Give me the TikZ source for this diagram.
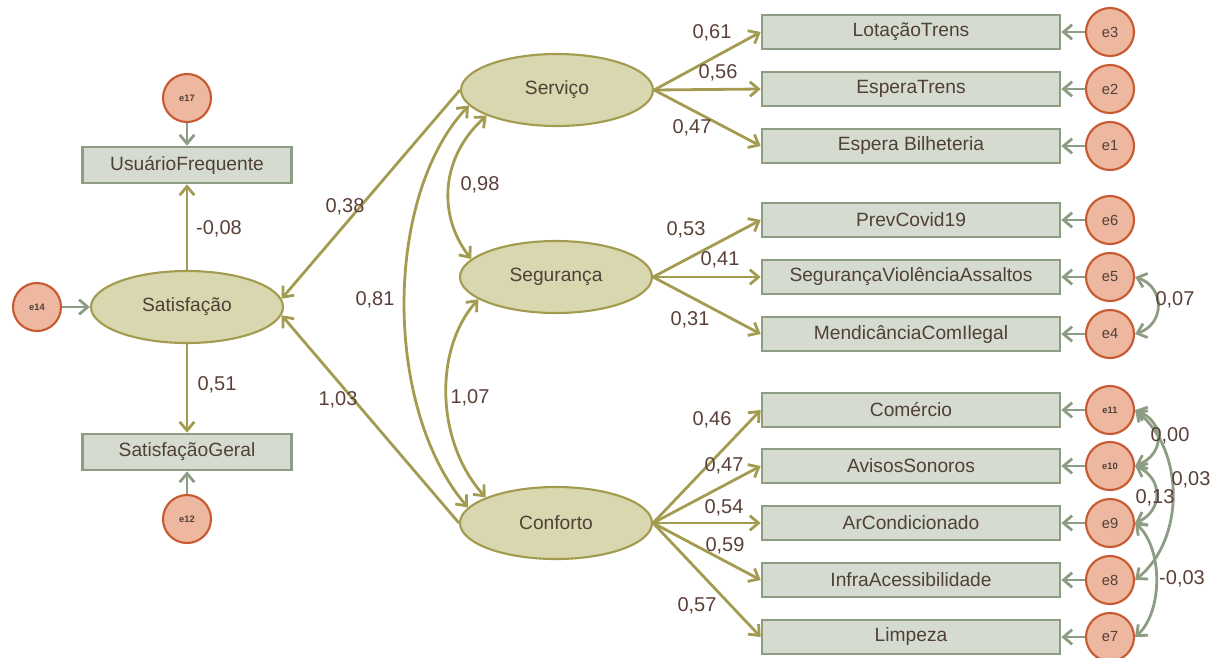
\documentclass[tikz,border=0pt]{standalone}
\usepackage{fontspec}
\setmainfont{Liberation Sans}
\usetikzlibrary{shapes.geometric,arrows.meta}

\definecolor{latfill}{HTML}{D9D7AF}
\definecolor{latline}{HTML}{A39C50}
\definecolor{obsfill}{HTML}{D5DBCF}
\definecolor{obsline}{HTML}{8D9D83}
\definecolor{errfill}{HTML}{EDB7A0}
\definecolor{errline}{HTML}{C85A32}
\definecolor{txtbrown}{HTML}{4F4038}
\definecolor{numbrown}{HTML}{5A4038}

\tikzset{every picture/.style={line width=0.75pt}}
\tikzset{
  latent/.style={ellipse, draw=latline, fill=latfill, line width=1.6pt, minimum width=144pt, minimum height=54pt, inner sep=0pt, text=txtbrown, font=\fontsize{14.4}{16}\selectfont},
  obsbox/.style={rectangle, draw=obsline, fill=obsfill, line width=2pt, minimum width=223.5pt, minimum height=25.5pt, inner sep=0pt, text=txtbrown, font=\fontsize{14.4}{16}\selectfont},
  obsleft/.style={obsbox, minimum width=156.75pt, minimum height=27pt},
  errc/.style={circle, draw=errline, fill=errfill, line width=1.6pt, minimum size=36pt, inner sep=0pt, text=txtbrown, font=\fontsize{11}{12}\selectfont},
  errsmall/.style={errc, font=\fontsize{7}{8}\selectfont\bfseries},
  loadpath/.style={draw=latline, line width=2.1pt, -{Straight Barb[length=6.5pt,width=11pt]}},
  covpath/.style={draw=latline, line width=2.1pt, {Straight Barb[length=6.5pt,width=11pt]}-{Straight Barb[length=6.5pt,width=11pt]}},
  errarrow/.style={draw=obsline, line width=2.1pt, -{Straight Barb[length=6.5pt,width=11pt]}},
  errcov/.style={draw=obsline, line width=2.1pt, {Straight Barb[length=6.5pt,width=11pt]}-{Straight Barb[length=6.5pt,width=11pt]}},
  coef/.style={text=numbrown, font=\fontsize{15}{17}\selectfont, inner sep=0pt},
}

\begin{document}
\begin{tikzpicture}[x=0.75pt,y=0.75pt,yscale=-1,xscale=1]
\path[use as bounding box] (0,0) rectangle (1219,657);

%Shape: Ellipse (latentes)
\node[latent] (sat) at (187,307) {Satisfação};
\node[latent] (serv) at (557,90) {Serviço};
\node[latent] (seg) at (556,277) {Segurança};
\node[latent] (conf) at (556,523) {Conforto};

%Shape: Rectangle (esquerda)
\node[obsleft] (usu) at (187,165) {UsuárioFrequente};
\node[obsleft] (sgeral) at (187,452) {SatisfaçãoGeral};

%Shape: Rectangle (direita)
\node[obsbox] (lot) at (911,32) {LotaçãoTrens};
\node[obsbox] (espt) at (911,89) {EsperaTrens};
\node[obsbox] (espb) at (911,146) {Espera Bilheteria};
\node[obsbox] (prev) at (911,220) {PrevCovid19};
\node[obsbox] (segv) at (911,277) {SegurançaViolênciaAssaltos};
\node[obsbox] (mend) at (911,334) {MendicânciaComIlegal};
\node[obsbox] (com) at (911,410) {Comércio};
\node[obsbox] (avis) at (911,466) {AvisosSonoros};
\node[obsbox] (arc) at (911,523) {ArCondicionado};
\node[obsbox] (infra) at (911,580) {InfraAcessibilidade};
\node[obsbox] (limp) at (911,637) {Limpeza};

%Shape: Circle (erros)
\node[errsmall] (e17) at (187,98) {e17};
\node[errsmall] (e14) at (37,307) {e14};
\node[errsmall] (e12) at (187,519) {e12};
\node[errc] (e3) at (1110,32) {e3};
\node[errc] (e2) at (1110,89) {e2};
\node[errc] (e1) at (1110,146) {e1};
\node[errc] (e6) at (1110,220) {e6};
\node[errc] (e5) at (1110,277) {e5};
\node[errc] (e4) at (1110,334) {e4};
\node[errsmall] (e11) at (1110,410) {e11};
\node[errsmall] (e10) at (1110,466) {e10};
\node[errc] (e9) at (1110,523) {e9};
\node[errc] (e8) at (1110,580) {e8};
\node[errc] (e7) at (1110,637) {e7};

%Straight Lines (erros)
\draw[errarrow] (e17) -- (usu);
\draw[errarrow] (e14) -- (sat);
\draw[errarrow] (e12) -- (sgeral);
\foreach \e/\b in {e3/lot,e2/espt,e1/espb,e6/prev,e5/segv,e4/mend,e11/com,e10/avis,e9/arc,e8/infra,e7/limp}
  \draw[errarrow] (\e) -- (\b);

%Straight Lines (cargas)
\draw[loadpath] (sat) -- (usu);
\draw[loadpath] (sat) -- (sgeral);
\draw[loadpath] (serv.west) -- (sat.5);
\draw[loadpath] (conf.west) -- (sat.-5);
\foreach \b in {lot,espt,espb}
  \draw[loadpath] (serv.east) -- (\b.west);
\foreach \b in {prev,segv,mend}
  \draw[loadpath] (seg.east) -- (\b.west);
\foreach \b in {com,avis,arc,infra,limp}
  \draw[loadpath] (conf.east) -- (\b.west);

%Curve Lines (covariancias)
\draw[covpath] (serv.200) .. controls +(-45,40) and +(-35,-45) .. (seg.168);
\draw[covpath] (seg.196) .. controls +(-45,50) and +(-50,-55) .. (conf.160);
\draw[covpath] (serv.190) .. controls +(-85,90) and +(-85,-100) .. (conf.170);
\draw[errcov] (e5.east) .. controls +(30,10) and +(30,-10) .. (e4.east);
\draw[errcov] (e11.east) .. controls +(30,12) and +(30,-12) .. (e10.east);
\draw[errcov] (e11.east) .. controls +(50,40) and +(50,-40) .. (e8.east);
\draw[errcov] (e10.east) .. controls +(28,12) and +(28,-12) .. (e9.east);
\draw[errcov] (e9.east) .. controls +(28,25) and +(28,-25) .. (e7.east);

% Text Node
\node[coef] (c61) at (712,33) {0,61};
\node[coef] (c56) at (718,73) {0,56};
\node[coef] (c47a) at (692,128) {0,47};
\node[coef] (c53) at (686,230) {0,53};
\node[coef] (c41) at (720,260) {0,41};
\node[coef] (c31) at (690,320) {0,31};
\node[coef] (c46) at (712,420) {0,46};
\node[coef] (c47b) at (724,466) {0,47};
\node[coef] (c54) at (724,508) {0,54};
\node[coef] (c59) at (725,546) {0,59};
\node[coef] (c57) at (697,606) {0,57};
% Text Node
\node[coef] (c98) at (480,185) {0,98};
\node[coef] (c81) at (375,300) {0,81};
\node[coef] (c107) at (470,398) {1,07};
\node[coef] (c38) at (345,207) {0,38};
\node[coef] (c103) at (338,400) {1,03};
\node[coef] (c08) at (219,229) {-0,08};
\node[coef] (c51) at (217,385) {0,51};
% Text Node
\node[coef] (c07) at (1175,300) {0,07};
\node[coef] (c00) at (1170,436) {0,00};
\node[coef] (c03) at (1191,480) {0,03};
\node[coef] (c13) at (1155,498) {0,13};
\node[coef] (cm03) at (1182,579) {-0,03};

\end{tikzpicture}
\end{document}
